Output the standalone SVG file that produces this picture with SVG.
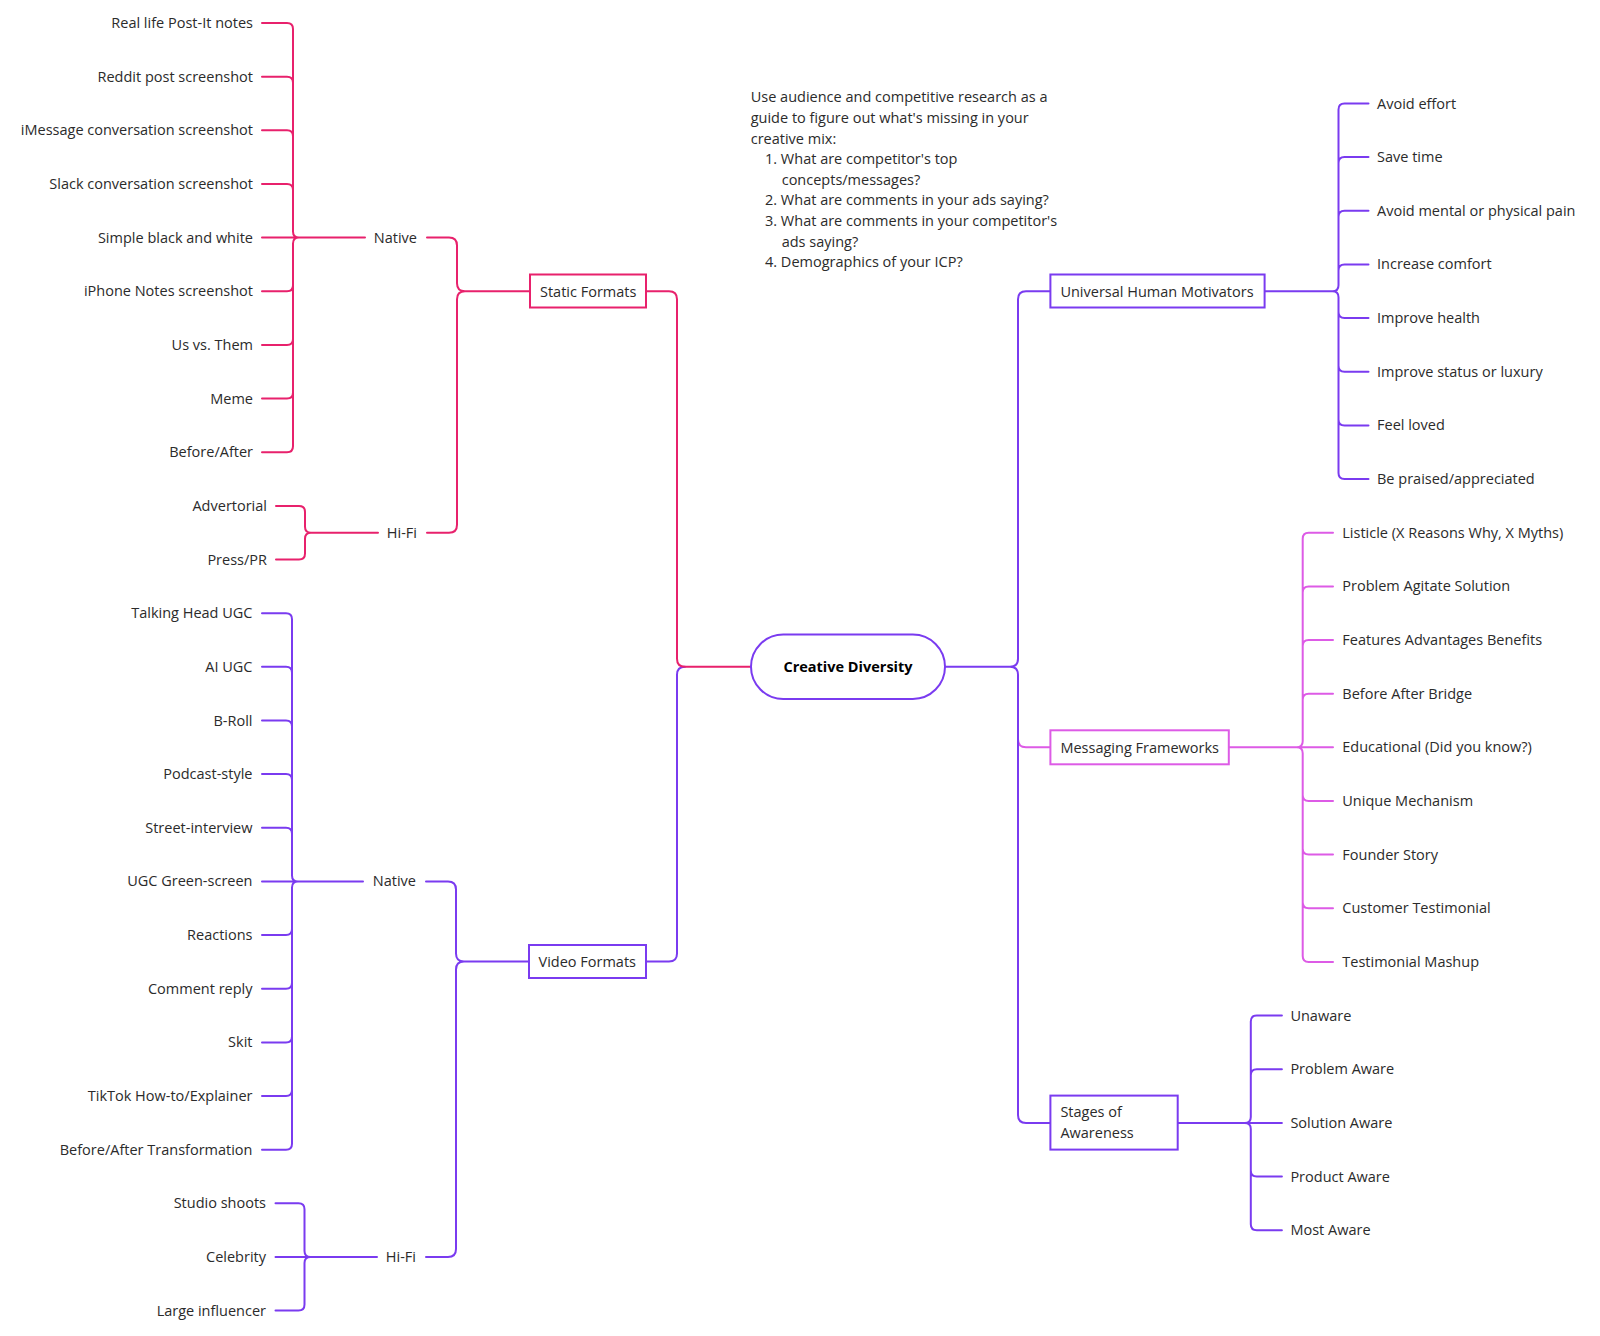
<svg xmlns="http://www.w3.org/2000/svg" width="1600" height="1336" viewBox="0 0 1600 1336">
<style>
text{font-family:"Open Sans","Liberation Sans",sans-serif;font-size:14.5px;fill:#2b2b2b}
.e{text-anchor:end}
.b{font-weight:bold;fill:#000;text-anchor:middle}
.c{fill:none;stroke-width:2;stroke-linejoin:round;stroke-linecap:round}
.red{stroke:#E8216C}
.pur{stroke:#7A3BF0}
.mag{stroke:#DD5BE6}
.box{fill:#fff;stroke-width:2}
</style>
<rect width="1600" height="1336" fill="#fff"/>
<g id="connectors">
<!-- root left -->
<path class="c pur" d="M685,666.8 Q677,666.8 677,674.8 V953.5 Q677,961.5 669,961.5 H646"/>
<path class="c red" d="M751,666.8 H685 Q677,666.8 677,658.8 V299.3 Q677,291.3 669,291.3 H646"/>
<!-- root right -->
<path class="c mag" d="M1018,739.3 Q1018,747.3 1026,747.3 H1050.4"/>
<path class="c pur" d="M945,666.8 H1010 Q1018,666.8 1018,658.8 V299.3 Q1018,291.3 1026,291.3 H1050.4 M1010,666.8 Q1018,666.8 1018,674.8 V1114.9 Q1018,1122.9 1026,1122.9 H1050.4"/>
<!-- static formats children -->
<path class="c red" d="M530,291.3 H465 Q457,291.3 457,283.3 V245.6 Q457,237.6 449,237.6 H427 M465,291.3 Q457,291.3 457,299.3 V524.7 Q457,532.7 449,532.7 H427"/>
<!-- static native leaves -->
<path class="c red" d="M365,237.6 H262 M299,237.6 Q293,237.6 293,231.6 V29 Q293,23 287,23 H262 M293,82.7 Q293,76.7 287,76.7 H262 M293,136.3 Q293,130.3 287,130.3 H262 M293,190 Q293,184 287,184 H262 M299,237.6 Q293,237.6 293,243.6 V446.2 Q293,452.2 287,452.2 H262 M293,285.3 Q293,291.3 287,291.3 H262 M293,338.9 Q293,344.9 287,344.9 H262 M293,392.6 Q293,398.6 287,398.6 H262"/>
<!-- static hifi leaves -->
<path class="c red" d="M378,532.7 H311 Q305,532.7 305,526.7 V511.9 Q305,505.9 299,505.9 H276 M311,532.7 Q305,532.7 305,538.7 V553.5 Q305,559.5 299,559.5 H276"/>
<!-- video formats children -->
<path class="c pur" d="M529,961.5 H464 Q456,961.5 456,953.5 V889.4 Q456,881.4 448,881.4 H426 M464,961.5 Q456,961.5 456,969.5 V1249 Q456,1257 448,1257 H426"/>
<!-- video native leaves -->
<path class="c pur" d="M363,881.4 H262 M298,881.4 Q292,881.4 292,875.4 V619.2 Q292,613.2 286,613.2 H262 M292,672.8 Q292,666.8 286,666.8 H262 M292,726.5 Q292,720.5 286,720.5 H262 M292,780.1 Q292,774.1 286,774.1 H262 M292,833.8 Q292,827.8 286,827.8 H262 M298,881.4 Q292,881.4 292,887.4 V1143.7 Q292,1149.7 286,1149.7 H262 M292,929.1 Q292,935.1 286,935.1 H262 M292,982.7 Q292,988.7 286,988.7 H262 M292,1036.4 Q292,1042.4 286,1042.4 H262 M292,1090 Q292,1096 286,1096 H262"/>
<!-- video hifi leaves -->
<path class="c pur" d="M377,1257 H275.5 M310.5,1257 Q304.5,1257 304.5,1251 V1209.3 Q304.5,1203.3 298.5,1203.3 H275.5 M310.5,1257 Q304.5,1257 304.5,1263 V1304.6 Q304.5,1310.6 298.5,1310.6 H275.5"/>
<!-- UHM leaves -->
<path class="c pur" d="M1264.6,291.3 H1332.5 Q1338.5,291.3 1338.5,285.3 V109.5 Q1338.5,103.5 1344.5,103.5 H1368.5 M1338.5,163.1 Q1338.5,157.1 1344.5,157.1 H1368.5 M1338.5,216.8 Q1338.5,210.8 1344.5,210.8 H1368.5 M1338.5,270.4 Q1338.5,264.4 1344.5,264.4 H1368.5 M1332.5,291.3 Q1338.5,291.3 1338.5,297.3 V473.1 Q1338.5,479.1 1344.5,479.1 H1368.5 M1338.5,312.1 Q1338.5,318.1 1344.5,318.1 H1368.5 M1338.5,365.8 Q1338.5,371.8 1344.5,371.8 H1368.5 M1338.5,419.4 Q1338.5,425.4 1344.5,425.4 H1368.5"/>
<!-- MF leaves -->
<path class="c mag" d="M1228.8,747.3 H1333 M1296.7,747.3 Q1302.7,747.3 1302.7,741.3 V538.7 Q1302.7,532.7 1308.7,532.7 H1333 M1302.7,592.4 Q1302.7,586.4 1308.7,586.4 H1333 M1302.7,646 Q1302.7,640 1308.7,640 H1333 M1302.7,699.7 Q1302.7,693.7 1308.7,693.7 H1333 M1296.7,747.3 Q1302.7,747.3 1302.7,753.3 V955.9 Q1302.7,961.9 1308.7,961.9 H1333 M1302.7,795 Q1302.7,801 1308.7,801 H1333 M1302.7,848.6 Q1302.7,854.6 1308.7,854.6 H1333 M1302.7,902.3 Q1302.7,908.3 1308.7,908.3 H1333"/>
<!-- Stages leaves -->
<path class="c pur" d="M1177.7,1122.9 H1281.9 M1244.8,1122.9 Q1250.8,1122.9 1250.8,1116.9 V1021.6 Q1250.8,1015.6 1256.8,1015.6 H1281.9 M1250.8,1075.2 Q1250.8,1069.2 1256.8,1069.2 H1281.9 M1244.8,1122.9 Q1250.8,1122.9 1250.8,1128.9 V1224.2 Q1250.8,1230.2 1256.8,1230.2 H1281.9 M1250.8,1170.5 Q1250.8,1176.5 1256.8,1176.5 H1281.9"/>
</g>

<g id="root">
<rect x="751" y="634.5" width="194" height="64.5" rx="32.2" class="box" stroke="#7A3BF0"/>
<text x="848" y="672" class="b">Creative Diversity</text>
</g>

<g id="note">
<text x="750.7" y="102.3">Use audience and competitive research as a</text>
<text x="750.7" y="122.9">guide to figure out what's missing in your</text>
<text x="750.7" y="143.5">creative mix:</text>
<text x="765" y="164.1">1. What are competitor's top</text>
<text x="781.7" y="184.7">concepts/messages?</text>
<text x="765" y="205.3">2. What are comments in your ads saying?</text>
<text x="765" y="225.9">3. What are comments in your competitor's</text>
<text x="781.7" y="246.5">ads saying?</text>
<text x="765" y="267.1">4. Demographics of your ICP?</text>
</g>

<g id="static-formats">
<rect x="530" y="274.5" width="116" height="33" class="box" stroke="#E8216C"/>
<text x="540" y="296.5">Static Formats</text>
</g>
<g id="static-native"><text x="417" y="242.6" class="e">Native</text></g>
<g id="static-hifi"><text x="417" y="537.7" class="e">Hi-Fi</text></g>
<g id="static-native-items">
<text x="253" y="28" class="e">Real life Post-It notes</text>
<text x="253" y="81.7" class="e">Reddit post screenshot</text>
<text x="253" y="135.3" class="e">iMessage conversation screenshot</text>
<text x="253" y="189" class="e">Slack conversation screenshot</text>
<text x="253" y="242.6" class="e">Simple black and white</text>
<text x="253" y="296.3" class="e">iPhone Notes screenshot</text>
<text x="253" y="349.9" class="e">Us vs. Them</text>
<text x="253" y="403.6" class="e">Meme</text>
<text x="253" y="457.2" class="e">Before/After</text>
</g>
<g id="static-hifi-items">
<text x="267" y="510.9" class="e">Advertorial</text>
<text x="267" y="564.5" class="e">Press/PR</text>
</g>

<g id="video-formats">
<rect x="529" y="945" width="117" height="33" class="box" stroke="#7A3BF0"/>
<text x="538.5" y="966.8">Video Formats</text>
</g>
<g id="video-native"><text x="416" y="886.4" class="e">Native</text></g>
<g id="video-hifi"><text x="416" y="1262" class="e">Hi-Fi</text></g>
<g id="video-native-items">
<text x="252.5" y="618.2" class="e">Talking Head UGC</text>
<text x="252.5" y="671.8" class="e">AI UGC</text>
<text x="252.5" y="725.5" class="e">B-Roll</text>
<text x="252.5" y="779.1" class="e">Podcast-style</text>
<text x="252.5" y="832.8" class="e">Street-interview</text>
<text x="252.5" y="886.4" class="e">UGC Green-screen</text>
<text x="252.5" y="940.1" class="e">Reactions</text>
<text x="252.5" y="993.7" class="e">Comment reply</text>
<text x="252.5" y="1047.4" class="e">Skit</text>
<text x="252.5" y="1101" class="e">TikTok How-to/Explainer</text>
<text x="252.5" y="1154.7" class="e">Before/After Transformation</text>
</g>
<g id="video-hifi-items">
<text x="266" y="1208.3" class="e">Studio shoots</text>
<text x="266" y="1262" class="e">Celebrity</text>
<text x="266" y="1315.6" class="e">Large influencer</text>
</g>

<g id="uhm">
<rect x="1050.4" y="274.5" width="214.2" height="33" class="box" stroke="#7A3BF0"/>
<text x="1060.4" y="296.5">Universal Human Motivators</text>
</g>
<g id="uhm-items">
<text x="1377" y="108.5">Avoid effort</text>
<text x="1377" y="162.1">Save time</text>
<text x="1377" y="215.8">Avoid mental or physical pain</text>
<text x="1377" y="269.4">Increase comfort</text>
<text x="1377" y="323.1">Improve health</text>
<text x="1377" y="376.8">Improve status or luxury</text>
<text x="1377" y="430.4">Feel loved</text>
<text x="1377" y="484.1">Be praised/appreciated</text>
</g>

<g id="mf">
<rect x="1050.4" y="730.3" width="178.4" height="34" class="box" stroke="#DD5BE6"/>
<text x="1060.4" y="752.5">Messaging Frameworks</text>
</g>
<g id="mf-items">
<text x="1342.3" y="537.7">Listicle (X Reasons Why, X Myths)</text>
<text x="1342.3" y="591.4">Problem Agitate Solution</text>
<text x="1342.3" y="645">Features Advantages Benefits</text>
<text x="1342.3" y="698.7">Before After Bridge</text>
<text x="1342.3" y="752.3">Educational (Did you know?)</text>
<text x="1342.3" y="806">Unique Mechanism</text>
<text x="1342.3" y="859.6">Founder Story</text>
<text x="1342.3" y="913.3">Customer Testimonial</text>
<text x="1342.3" y="966.9">Testimonial Mashup</text>
</g>

<g id="stages">
<rect x="1050.4" y="1095.6" width="127.3" height="54" class="box" stroke="#7A3BF0"/>
<text x="1060.4" y="1117.3">Stages of</text>
<text x="1060.4" y="1137.8">Awareness</text>
</g>
<g id="stages-items">
<text x="1290.4" y="1020.6">Unaware</text>
<text x="1290.4" y="1074.2">Problem Aware</text>
<text x="1290.4" y="1127.9">Solution Aware</text>
<text x="1290.4" y="1181.5">Product Aware</text>
<text x="1290.4" y="1235.2">Most Aware</text>
</g>
</svg>
